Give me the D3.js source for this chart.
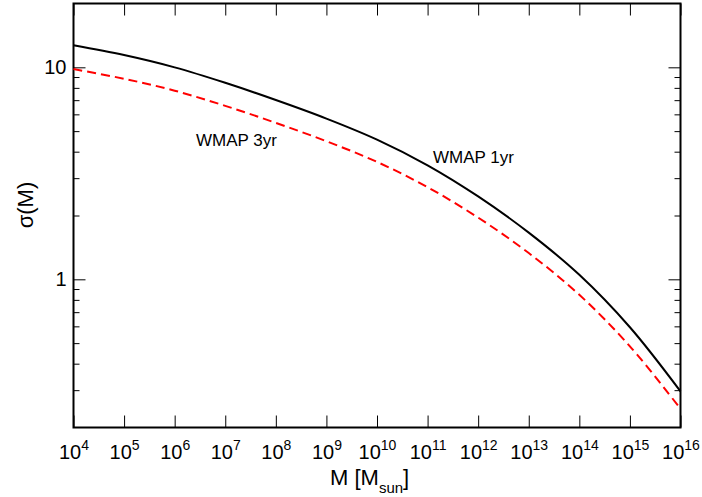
<!DOCTYPE html>
<html>
<head>
<meta charset="utf-8">
<script src="https://cdn.jsdelivr.net/npm/d3@7"></script>
<style>
  html, body { margin: 0; padding: 0; background: #fff; }
  svg { display: block; font-family: "Liberation Sans", Arial, sans-serif; }
  .axis path { display: none; }
  .axis line { stroke: #000; stroke-width: 1; }
</style>
</head>
<body>
<svg id="chart" width="702" height="497"></svg>
<script>
// --- data (sigma(M) vs mass) ---
const masses      = [1e4, 1e5, 1e6, 1e7, 1e8, 1e9, 1e10, 1e11, 1e12, 1e13, 1e14, 1e15, 1e16];
const sigmaWmap1  = [12.7, 11.42, 9.99, 8.45, 7.01, 5.73, 4.56, 3.45, 2.46, 1.66, 1.05, 0.594, 0.296];
const sigmaWmap3  = [9.81, 8.83, 7.76, 6.58, 5.47, 4.48, 3.58, 2.72, 1.954, 1.33, 0.845, 0.483, 0.245];

const xTickExps   = ['4','5','6','7','8','9','10','11','12','13','14','15','16'];
const yMajorTicks = [1, 10];
const yMinorTicks = [0.3, 0.4, 0.5, 0.6, 0.7, 0.8, 0.9, 2, 3, 4, 5, 6, 7, 8, 9];

const margin = { left: 73.5, top: 3.5, right: 21.5, bottom: 69.5 };
const W = 702, H = 497;
const w = W - margin.left - margin.right;
const h = H - margin.top - margin.bottom;

const svg = d3.select('#chart');
const g = svg.append('g').attr('transform', `translate(${margin.left},${margin.top})`);

const x = d3.scaleLog().domain([1e4, 1e16]).range([0, w]);
const y = d3.scaleLog().domain([0.2, 20]).range([h, 0]);

// bottom axis with 10^n labels
const xAxis = g.append('g')
  .attr('class', 'axis')
  .attr('transform', `translate(0,${h})`)
  .call(d3.axisBottom(x).tickValues(masses).tickSize(-12).tickPadding(17).tickFormat(() => ''));

xAxis.selectAll('.tick text').each(function(d, i) {
  const t = d3.select(this)
    .attr('font-size', 20)
    .attr('fill', '#000')
    .attr('dy', '0.71em');
  t.append('tspan').text('10');
  t.append('tspan').attr('dy', -9).attr('font-size', 14).text(xTickExps[i]);
});

// top axis, ticks only
g.append('g')
  .attr('class', 'axis')
  .call(d3.axisTop(x).tickValues(masses).tickSize(-12).tickFormat(() => ''));

// left axis
g.append('g')
  .attr('class', 'axis')
  .call(d3.axisLeft(y).tickValues(yMajorTicks).tickSize(-12).tickPadding(7).tickFormat(d3.format('d')))
  .selectAll('text').attr('font-size', 20).attr('fill', '#000');
g.append('g')
  .attr('class', 'axis')
  .call(d3.axisLeft(y).tickValues(yMinorTicks).tickSize(-6).tickFormat(() => ''));

// right axis
g.append('g')
  .attr('class', 'axis')
  .attr('transform', `translate(${w},0)`)
  .call(d3.axisRight(y).tickValues(yMajorTicks).tickSize(-12).tickFormat(() => ''));
g.append('g')
  .attr('class', 'axis')
  .attr('transform', `translate(${w},0)`)
  .call(d3.axisRight(y).tickValues(yMinorTicks).tickSize(-6).tickFormat(() => ''));

// frame
g.append('rect')
  .attr('width', w).attr('height', h)
  .attr('fill', 'none').attr('stroke', '#000').attr('stroke-width', 2);

// curves
const line = d3.line()
  .x((d, i) => x(masses[i]))
  .y(d => y(d))
  .curve(d3.curveCatmullRom.alpha(0.5));

g.append('path')
  .datum(sigmaWmap3)
  .attr('d', line)
  .attr('fill', 'none')
  .attr('stroke', '#ff0000')
  .attr('stroke-width', 2)
  .attr('stroke-dasharray', '9,5');

g.append('path')
  .datum(sigmaWmap1)
  .attr('d', line)
  .attr('fill', 'none')
  .attr('stroke', '#000')
  .attr('stroke-width', 2);

// curve labels
g.append('text')
  .attr('x', 196 - margin.left).attr('y', 146 - margin.top)
  .attr('font-size', 17).text('WMAP 3yr');
g.append('text')
  .attr('x', 433 - margin.left).attr('y', 163 - margin.top)
  .attr('font-size', 17).text('WMAP 1yr');

// axis titles
const xt = svg.append('text')
  .attr('x', 330).attr('y', 485)
  .attr('font-size', 22);
xt.append('tspan').text('M [M');
xt.append('tspan').attr('font-size', 15).attr('dy', 8).text('sun');
xt.append('tspan').attr('dy', -8).text(']');

svg.append('text')
  .attr('transform', 'translate(33,205) rotate(-90)')
  .attr('text-anchor', 'middle')
  .attr('font-size', 22)
  .text('σ(M)');
</script>
</body>
</html>
